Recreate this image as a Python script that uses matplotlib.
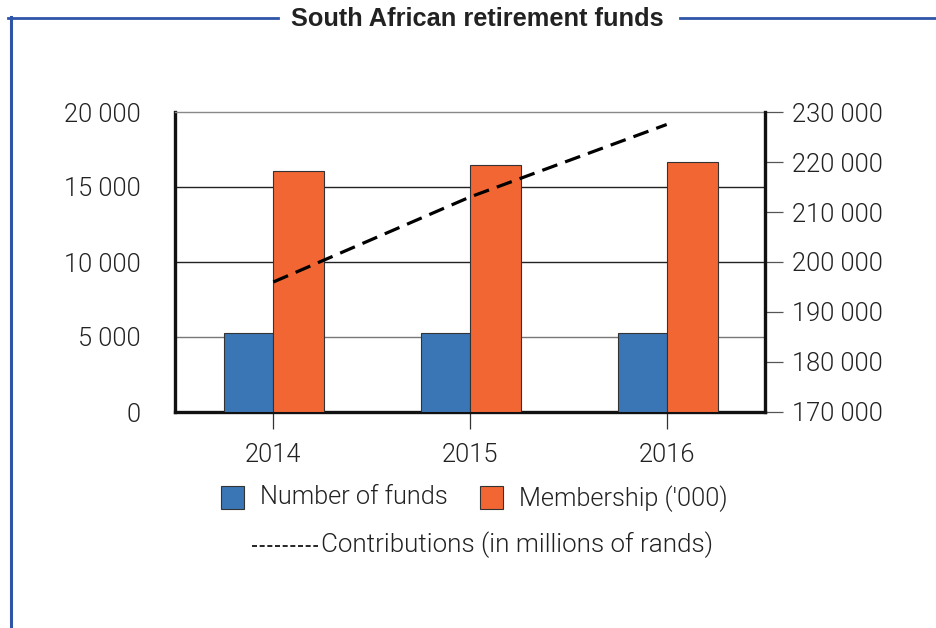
import matplotlib
matplotlib.use("Agg")
import matplotlib.pyplot as plt
from matplotlib.lines import Line2D
from matplotlib.patches import Rectangle
import numpy as np

# Data
years = ["2014", "2015", "2016"]
number_of_funds = [5280, 5270, 5280]
membership_thousands = [16070, 16490, 16690]
contributions_millions = [196000, 213000, 227500]

left_ticks = [0, 5000, 10000, 15000, 20000]
right_ticks = [170000, 180000, 190000, 200000, 210000, 220000, 230000]

BLUE = "#3a76b6"
ORANGE = "#f26633"
FRAME = "#2f55a8"
TEXT = "#222222"
FONT = "Roboto"
LIGHT = 300
SIZE = 18.3

def fmt(v):
    return f"{v:,}".replace(",", " ")

fig = plt.figure(figsize=(9.36, 6.28), dpi=100)
ax = fig.add_axes([175 / 936, 1 - 412 / 628, 590 / 936, 300 / 628])

x = np.arange(len(years))
w = 0.25
ax.bar(x, number_of_funds, width=-w, align="edge", color=BLUE,
       edgecolor="#333333", linewidth=0.8, zorder=3)
ax.bar(x, membership_thousands, width=w + 0.01, align="edge", color=ORANGE,
       edgecolor="#333333", linewidth=0.8, zorder=3)

ax.set_xlim(-0.5, 2.5)
ax.set_ylim(0, 20000)
ax.set_yticks(left_ticks)
ax.set_yticklabels([fmt(v) for v in left_ticks])
ax.set_xticks(x)
ax.set_xticklabels(years)

# Horizontal rules
for v, c in [(5000, "#777777"), (10000, "#222222"), (15000, "#222222")]:
    ax.axhline(v, color=c, linewidth=1.0, zorder=1)

for side in ("left", "bottom"):
    ax.spines[side].set_linewidth(2.4)
    ax.spines[side].set_color("#111111")
ax.spines["top"].set_linewidth(1.0)
ax.spines["top"].set_color("#888888")
ax.spines["right"].set_visible(False)

ax.tick_params(axis="y", length=0, pad=25, labelsize=SIZE, labelcolor=TEXT)
ax.tick_params(axis="x", direction="out", length=12.5, width=0.9, color="#333333",
               pad=9.5, labelsize=SIZE, labelcolor=TEXT)
for lab in ax.get_xticklabels() + ax.get_yticklabels():
    lab.set_fontfamily(FONT)
    lab.set_fontweight(LIGHT)

# Contributions on the secondary axis
ax2 = ax.twinx()
ax2.plot(x, contributions_millions, color="black", linewidth=2.3,
         linestyle=(0, (5, 2.6)), zorder=4)
ax2.set_ylim(170000, 230000)
ax2.set_yticks(right_ticks)
ax2.set_yticklabels([fmt(v) for v in right_ticks])
ax2.spines["right"].set_linewidth(2.4)
ax2.spines["right"].set_color("#111111")
for side in ("left", "top", "bottom"):
    ax2.spines[side].set_visible(False)
ax2.tick_params(axis="y", direction="out", length=13, width=0.9, color="#555555",
                pad=6.5, labelsize=SIZE, labelcolor=TEXT)
for lab in ax2.get_yticklabels():
    lab.set_fontfamily(FONT)
    lab.set_fontweight(LIGHT)

# Title and frame
fig.text(477 / 936, 1 - 19 / 628, "South African retirement funds", ha="center",
         va="center", fontsize=18.3, fontweight="bold", color=TEXT,
         family="Liberation Sans")
fig.add_artist(Line2D([8 / 936, 278 / 936], [1 - 18 / 628] * 2, color=FRAME,
                      linewidth=2.0, transform=fig.transFigure))
fig.add_artist(Line2D([680 / 936, 1.0], [1 - 18 / 628] * 2, color=FRAME,
                      linewidth=2.0, transform=fig.transFigure))
fig.add_artist(Line2D([11 / 936, 11 / 936], [0, 1 - 17.3 / 628], color=FRAME,
                      linewidth=2.2, transform=fig.transFigure))

# Legend
def swatch(x0, color):
    fig.add_artist(Rectangle((x0 / 936, 1 - 509 / 628), 23 / 936, 23 / 628,
                             facecolor=color, edgecolor="#333333", linewidth=0.8,
                             transform=fig.transFigure))

swatch(221, BLUE)
fig.text(260 / 936, 1 - 497 / 628, "Number of funds", ha="left", va="center",
         fontsize=SIZE, fontweight=LIGHT, family=FONT, color=TEXT)
swatch(480, ORANGE)
fig.text(519 / 936, 1 - 499 / 628, "Membership ('000)", ha="left", va="center",
         fontsize=SIZE, fontweight=LIGHT, family=FONT, color=TEXT)
fig.add_artist(Line2D([252 / 936, 318 / 936], [1 - 546 / 628] * 2, color="black",
                      linewidth=1.2, linestyle=(0, (3, 1.6)),
                      transform=fig.transFigure))
fig.text(321 / 936, 1 - 545 / 628, "Contributions (in millions of rands)", ha="left",
         va="center", fontsize=SIZE + 0.4, fontweight=LIGHT, family=FONT, color=TEXT)

fig.savefig("out.png", dpi=100)
